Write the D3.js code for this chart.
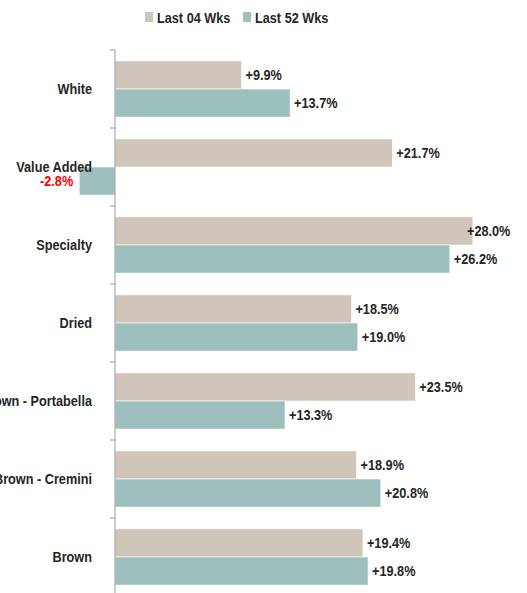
<!DOCTYPE html>
<html>
<head>
<meta charset="utf-8">
<script src="https://cdn.jsdelivr.net/npm/d3@7"></script>
<style>
  body { margin: 0; background: #fff; }
  svg text { font-family: "Liberation Sans Narrow", "Liberation Sans", Arial, sans-serif; font-weight: bold; }
</style>
</head>
<body>
<svg id="chart"></svg>
<script>
// Chart data
const categories = ["White", "Value Added", "Specialty", "Dried", "Brown - Portabella", "Brown - Cremini", "Brown"];
const last04 = [9.9, 21.7, 28.0, 18.5, 23.5, 18.9, 19.4];
const last52 = [13.7, -2.8, 26.2, 19.0, 13.3, 20.8, 19.8];
const seriesNames = ["Last 04 Wks", "Last 52 Wks"];
const seriesColors = ["#cfc5b8", "#9dbfbd"];

const width = 527, height = 593;
const fontSize = 15.5;
const squeeze = 0.82; // horizontal squeeze to mimic a narrow font
const svg = d3.select("#chart").attr("width", width).attr("height", height);

// Scales
const x = d3.scaleLinear().domain([-5, 30]).range([51.1, 498.4]);
const y = d3.scaleBand().domain(categories).range([50, 596])
    .paddingInner(0.28).paddingOuter(0.14);
const ySub = d3.scaleBand().domain(seriesNames).range([0, y.bandwidth()]);

// Build rows for bars
let rows = [];
categories.forEach((c, i) => {
    rows.push({ cat: c, series: seriesNames[0], value: last04[i], color: seriesColors[0] });
    rows.push({ cat: c, series: seriesNames[1], value: last52[i], color: seriesColors[1] });
});

// Bars
svg.append("g")
    .selectAll("rect")
    .data(rows)
    .enter().append("rect")
    .attr("x", d => Math.min(x(0), x(d.value)))
    .attr("y", d => y(d.cat) + ySub(d.series))
    .attr("width", d => Math.abs(x(d.value) - x(0)))
    .attr("height", ySub.bandwidth())
    .attr("fill", d => d.color)
    .attr("stroke", "#fff")
    .attr("stroke-width", 0.6);

// Axis line and tick marks at category boundaries
const axis = svg.append("g").attr("stroke", "#999").attr("stroke-width", 1);
axis.append("line")
    .attr("x1", x(0)).attr("x2", x(0))
    .attr("y1", y.range()[0]).attr("y2", y.range()[1]);
d3.range(categories.length + 1).forEach(i => {
    const ty = y.range()[0] + i * y.step();
    axis.append("line")
        .attr("x1", x(0) - 5).attr("x2", x(0))
        .attr("y1", ty).attr("y2", ty);
});

function place(px, py) {
    return `translate(${px},${py}) scale(${squeeze},1)`;
}

// Category labels
svg.append("g")
    .selectAll("text")
    .data(categories)
    .enter().append("text")
    .attr("transform", d => place(x(0) - 23, y(d) + y.bandwidth() / 2))
    .attr("dy", "0.35em")
    .attr("text-anchor", "end")
    .attr("font-size", fontSize)
    .attr("fill", "#262626")
    .text(d => d);

// Value labels
svg.append("g")
    .selectAll("text")
    .data(rows)
    .enter().append("text")
    .attr("transform", d => place(
        d.value < 0 ? x(d.value) - 6 : Math.min(x(d.value) + 4, width - 60),
        y(d.cat) + ySub(d.series) + ySub.bandwidth() / 2))
    .attr("dy", "0.35em")
    .attr("text-anchor", d => d.value < 0 ? "end" : "start")
    .attr("font-size", fontSize)
    .attr("fill", d => d.value < 0 ? "#ff0000" : "#262626")
    .text(d => (d.value < 0 ? "" : "+") + d.value.toFixed(1) + "%");

// Legend
const legendX = [145, 243];
const legend = svg.append("g")
    .selectAll("g")
    .data(seriesNames)
    .enter().append("g")
    .attr("transform", (d, i) => `translate(${legendX[i]},12)`);
legend.append("rect")
    .attr("width", 8).attr("height", 10)
    .attr("fill", (d, i) => seriesColors[i]);
legend.append("text")
    .attr("transform", place(12, 10.5))
    .attr("font-size", fontSize)
    .attr("fill", "#262626")
    .text(d => d);
</script>
</body>
</html>
